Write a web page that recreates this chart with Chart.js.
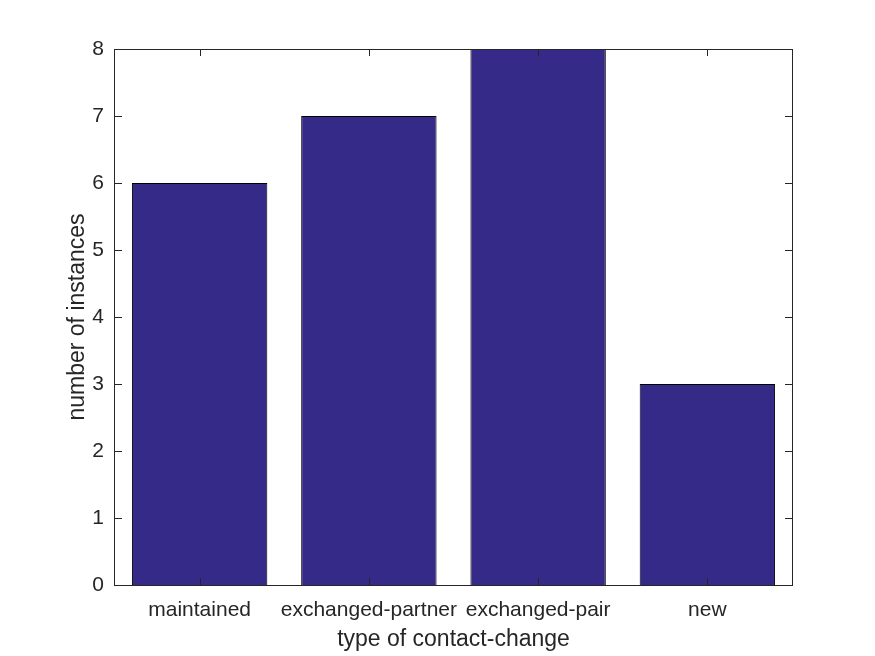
<!DOCTYPE html>
<html><head><meta charset="utf-8">
<script src="https://cdn.jsdelivr.net/npm/chart.js@4/dist/chart.umd.min.js"></script>
<style>html,body{margin:0;padding:0;background:#fff}#wrap{width:875px;height:656px}</style>
</head><body><div id="wrap"><canvas id="c" width="875" height="656"></canvas></div>
<script>
const categories = ["maintained", "exchanged-partner", "exchanged-pair", "new"];
const counts = [6, 7, 8, 3];
const yTicks = [0, 1, 2, 3, 4, 5, 6, 7, 8];

const FONT = "'Liberation Sans', Arial, Helvetica, sans-serif";
const TXT = '#262626';

const boxTicks = {
  id: 'boxTicks',
  afterDatasetsDraw(chart) {
    const {ctx, chartArea: a, scales: {x, y}} = chart;
    ctx.save();
    ctx.strokeStyle = '#262626';
    ctx.lineWidth = 1;
    const L = 7;
    ctx.beginPath();
    yTicks.forEach(v => {
      const py = Math.round(y.getPixelForValue(v)) + 0.5;
      ctx.moveTo(a.left, py); ctx.lineTo(a.left + L, py);
      ctx.moveTo(a.right, py); ctx.lineTo(a.right - L, py);
    });
    categories.forEach((c, i) => {
      const px = Math.round(x.getPixelForValue(i)) + 0.5;
      ctx.moveTo(px, a.bottom); ctx.lineTo(px, a.bottom - L);
      ctx.moveTo(px, a.top); ctx.lineTo(px, a.top + L);
    });
    ctx.stroke();
    ctx.strokeRect(a.left - 0.5, a.top + 0.5, a.right - a.left + 1, a.bottom - a.top);
    ctx.restore();
  }
};

new Chart(document.getElementById('c'), {
  type: 'bar',
  data: {
    labels: categories,
    datasets: [{
      data: counts,
      backgroundColor: '#352A87',
      borderColor: '#000000',
      borderWidth: 1,
      categoryPercentage: 1,
      barPercentage: 0.8
    }]
  },
  options: {
    responsive: false,
    animation: false,
    devicePixelRatio: 1,
    layout: {padding: {left: 60, top: 49, right: 83, bottom: 0}},
    plugins: {legend: {display: false}, tooltip: {enabled: false}},
    scales: {
      x: {
        grid: {display: false},
        border: {display: false},
        ticks: {color: TXT, font: {family: FONT, size: 21}, padding: 5, maxRotation: 0, autoSkip: false},
        title: {display: true, text: 'type of contact-change', color: TXT, font: {family: FONT, size: 23}, padding: {top: 0, bottom: 3}},
        afterFit(s) { s.height = 71; }
      },
      y: {
        min: 0, max: 8,
        grid: {display: false},
        border: {display: false},
        ticks: {stepSize: 1, color: TXT, font: {family: FONT, size: 21}, padding: 3},
        title: {display: true, text: 'number of instances', color: TXT, font: {family: FONT, size: 23}, padding: {top: 4, bottom: 0}},
        afterFit(s) { s.width = 55; }
      }
    }
  },
  plugins: [boxTicks]
});
</script></body></html>
